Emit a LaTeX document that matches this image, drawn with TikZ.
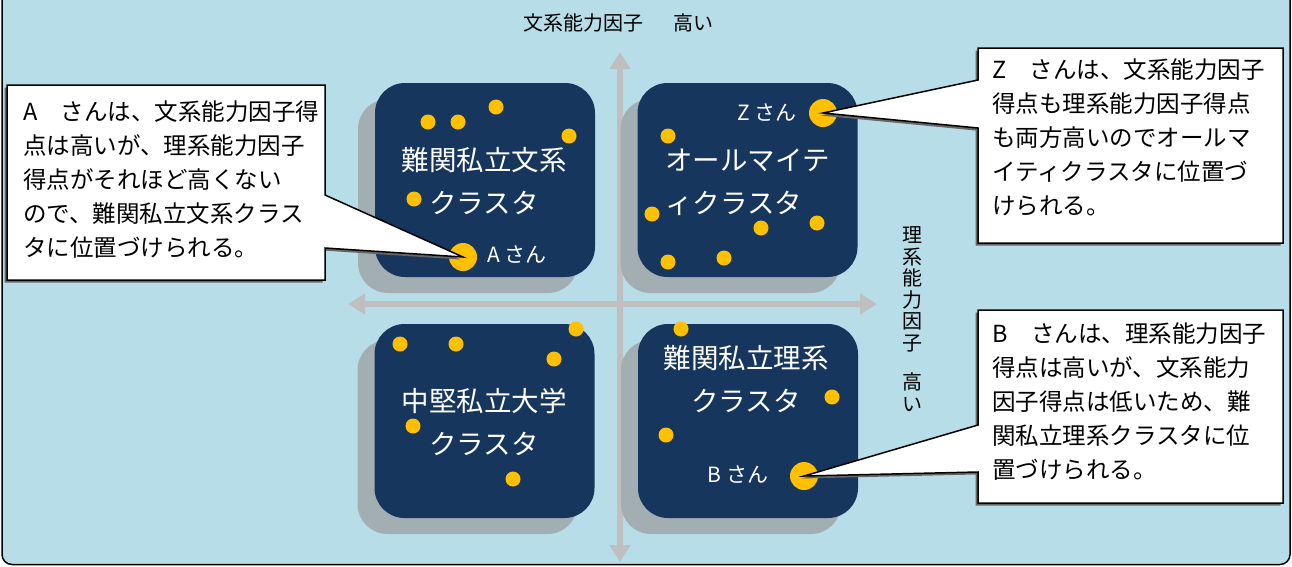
\documentclass[tikz,border=0pt]{standalone}
\usepackage{fontspec}
\setmainfont{Noto Sans CJK JP}
\usetikzlibrary{arrows.meta,shadows}

\begin{document}
\begin{tikzpicture}[x=1pt,y=-1pt,
        axis/.style={draw=axisgray, line width=6.5pt,
            arrows={Triangle[width=20pt,length=17pt]-Triangle[width=20pt,length=17pt]}},
        axis label/.style={font=\fontsize{20pt}{21.5pt}\selectfont, inner sep=0pt},
        cluster/.style={fill=navy, rounded corners=30pt, inner sep=0pt,
            minimum width=220pt, minimum height=194pt,
            general shadow={fill=shade, shadow xshift=-17pt, shadow yshift=-16pt}},
        cluster text/.style={text=white, font=\fontsize{27.5pt}{43pt}\selectfont, inner sep=0pt},
        big dot/.style={circle, fill=gold, minimum size=28pt, inner sep=0pt},
        person/.style={text=white, font=\fontsize{21pt}{21pt}\selectfont, inner sep=0pt},
        callout/.style={draw=black, line width=1.5pt, fill=white,
            general shadow={fill=black!60, shadow xshift=-2.5pt, shadow yshift=-2.5pt}},
        callout text/.style={align=left, anchor=west, inner sep=0pt,
            font=\fontsize{23.5pt}{34pt}\selectfont}
    ]
        % Define colors
        \definecolor{bgblue}{RGB}{183,221,232}
        \definecolor{navy}{RGB}{23,54,93}
        \definecolor{gold}{RGB}{255,192,0}
        \definecolor{axisgray}{RGB}{191,191,191}
        \definecolor{shade}{RGB}{163,174,179}

        \useasboundingbox (0,0) rectangle (1292,566);

        % Frame
        \draw[line width=1.5pt, fill=bgblue, rounded corners=10pt] (2,-20) rectangle (1290,564.5);

        % Axes
        \coordinate (axisTop) at (620,52);
        \coordinate (axisBottom) at (620,562);
        \coordinate (axisLeft) at (348,304);
        \coordinate (axisRight) at (877,304);
        \draw[axis] (axisBottom) -- (axisTop);
        \draw[axis] (axisLeft) -- (axisRight);

        % Axis labels
        \node[axis label] (labelBun) at (618,23) {文系能力因子\hspace{1.5em}高い};
        \node[axis label, align=center] (labelRi) at (912,319) {理\\系\\能\\力\\因\\子\\[18pt]高\\い};

        % Cluster boxes
        \node[cluster] (boxTL) at (485,180) {};
        \node[cluster] (boxTR) at (747.5,180) {};
        \node[cluster] (boxBL) at (484.5,421) {};
        \node[cluster] (boxBR) at (748,421) {};

        % Cluster names
        \node[cluster text, align=center] (nameTL) at (484,181.5) {難関私立文系\\クラスタ};
        \node[cluster text, align=left] (nameTR) at (747.5,182) {オールマイテ\\ィクラスタ};
        \node[cluster text, align=center] (nameBL) at (484,422) {中堅私立大学\\クラスタ};
        \node[cluster text, align=center] (nameBR) at (746,379) {難関私立理系\\クラスタ};

        % Students
        \foreach \x/\y in {428/122, 458/122, 496/107, 569/136, 414/199,
                           668/136, 652/214, 761/228, 817/223, 668/262, 724/258,
                           400/344, 456/344, 576/329, 554/359, 413/426, 513/479,
                           681/329, 832/397, 666/435} {
                \fill[gold] (\x,\y) circle (7.5pt);
            }
        \node[big dot] (dotA) at (463,257) {};
        \node[big dot] (dotZ) at (823,113) {};
        \node[big dot] (dotB) at (804,476) {};
        \node[person] (personA) at (517,255) {A さん};
        \node[person] (personZ) at (767,113) {Z さん};
        \node[person] (personB) at (738,475) {B さん};

        % Callouts
        \draw[callout] (7,85) -- (325,85) -- (325,195) -- (dotA.center) -- (325,248)
            -- (325,280) -- (7,280) -- cycle;
        \node[callout text] (noteA) at (23,179.5) {A　さんは、文系能力因子得\\点は高いが、理系能力因子\\得点がそれほど高くない\\ので、難関私立文系クラス\\タに位置づけられる。};

        \draw[callout] (978,48) -- (1283,48) -- (1283,243) -- (978,243) -- (978,128)
            -- (dotZ.center) -- (978,80) -- cycle;
        \node[callout text] (noteZ) at (992,137) {Z　さんは、文系能力因子\\得点も理系能力因子得点\\も両方高いのでオールマ\\イティクラスタに位置づ\\けられる。};

        \draw[callout] (978,310) -- (1283,310) -- (1283,503) -- (978,503) -- (978,472)
            -- (dotB.center) -- (978,425) -- cycle;
        \node[callout text] (noteB) at (992,401.5) {B　さんは、理系能力因子\\得点は高いが、文系能力\\因子得点は低いため、難\\関私立理系クラスタに位\\置づけられる。};

    \end{tikzpicture}
\end{document}
